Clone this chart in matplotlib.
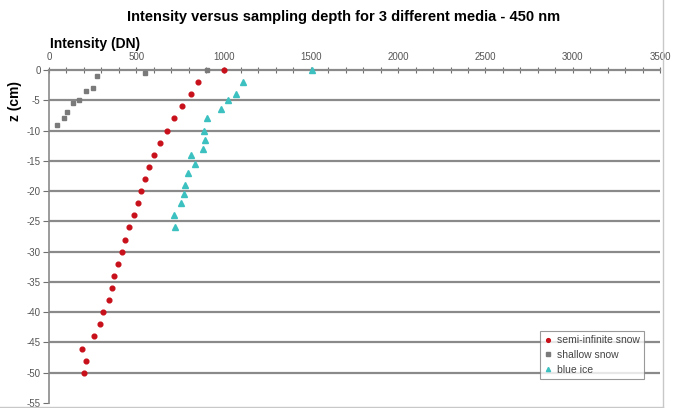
import matplotlib
matplotlib.use("Agg")
import matplotlib.pyplot as plt
from matplotlib.ticker import MultipleLocator
from matplotlib.lines import Line2D

plt.rcParams['font.family'] = ['Liberation Sans', 'DejaVu Sans']
plt.rcParams['axes.unicode_minus'] = False

# Data
semi_z = [0, -2, -4, -6, -8, -10, -12, -14, -16, -18, -20, -22, -24, -26, -28,
          -30, -32, -34, -36, -38, -40, -42, -44, -46, -48, -50]
semi_i = [1000, 852, 814, 762, 715, 676, 637, 600, 573, 548, 527, 508, 487, 460, 437,
          418, 397, 372, 359, 342, 311, 290, 256, 187, 212, 200]

shallow_z = [0, -0.5, -1, -3, -3.5, -4.9, -5.4, -7, -8, -9.1]
shallow_i = [905, 552, 275, 254, 210, 170, 136, 105, 86, 44]

ice_z = [0, -2, -4, -5, -6.5, -8, -10, -11.5, -13, -14, -15.5, -17, -19, -20.5, -22, -24, -26]
ice_i = [1505, 1112, 1072, 1024, 987, 905, 886, 896, 883, 814, 835, 797, 781, 772, 758, 718, 722]

x_ticks = [0, 500, 1000, 1500, 2000, 2500, 3000, 3500]
y_ticks = [0, -5, -10, -15, -20, -25, -30, -35, -40, -45, -50, -55]

fig = plt.figure(figsize=(6.74, 4.08), dpi=100)
ax = fig.add_axes([49/674, 1 - 403/408, (660-49)/674, (403-70)/408])

ax.set_xlim(0, 3500)
ax.set_ylim(-55, 0)

for y in y_ticks[1:-1]:
    ax.axhline(y, color='#8a8a8a', lw=1.6, zorder=1)

ax.plot(semi_i, semi_z, 'o', color='#c8101a', ms=3.4, mec='#c8101a', label='semi-infinite snow', zorder=3, clip_on=False)
ax.plot(shallow_i, shallow_z, 's', color='#7a7a7a', ms=3.0, mec='#7a7a7a', label='shallow snow', zorder=3, clip_on=False)
ax.plot(ice_i, ice_z, '^', color='#3cc0c0', ms=3.8, mec='#3cc0c0', label='blue ice', zorder=3, clip_on=False)

ax.xaxis.tick_top()
ax.xaxis.set_label_position('top')
ax.set_xticks(x_ticks)
ax.xaxis.set_minor_locator(MultipleLocator(100))
ax.set_yticks(y_ticks)
ax.tick_params(axis='x', which='major', direction='inout', length=5, width=0.8, color='#707070',
               labelsize=7, labelcolor='#555555', pad=3)
ax.tick_params(axis='x', which='minor', direction='inout', length=5, width=0.8, color='#707070')
ax.tick_params(axis='y', direction='out', length=4, width=0.8, color='#707070',
               labelsize=7, labelcolor='#555555', pad=2)

for s in ['right', 'bottom']:
    ax.spines[s].set_visible(False)
ax.spines['top'].set_color('#8a8a8a')
ax.spines['top'].set_linewidth(1.6)
ax.spines['left'].set_color('#8a8a8a')
ax.spines['left'].set_linewidth(1.2)

fig.text(15/674, 1 - 101/408, 'z (cm)', fontsize=10, fontweight='bold', rotation=90,
         ha='center', va='center')
fig.text(50/674, 1 - 44/408, 'Intensity (DN)', fontsize=10, fontweight='bold', va='center', ha='left')
fig.text(344/674, 1 - 17/408, 'Intensity versus sampling depth for 3 different media - 450 nm',
         fontsize=10.5, fontweight='bold', ha='center', va='center')

leg = ax.legend(loc='lower right', bbox_to_anchor=(649/674, 1 - 384/408), bbox_transform=fig.transFigure,
                fontsize=7.5, frameon=True, fancybox=False, handlelength=0.8, handletextpad=0.4,
                borderpad=0.4, labelspacing=0.45, markerscale=0.8, labelcolor='#444444')
leg.get_frame().set_edgecolor('#808080')
leg.get_frame().set_linewidth(0.8)

# faint chart-area border (right and bottom)
fig.add_artist(Line2D([663/674, 663/674], [1 - 407/408, 1 - 0/408], transform=fig.transFigure,
                      color='#c8c8c8', lw=1))
fig.add_artist(Line2D([0, 663/674], [1 - 407/408, 1 - 407/408], transform=fig.transFigure,
                      color='#c8c8c8', lw=1))

fig.savefig('out.png', dpi=100)
